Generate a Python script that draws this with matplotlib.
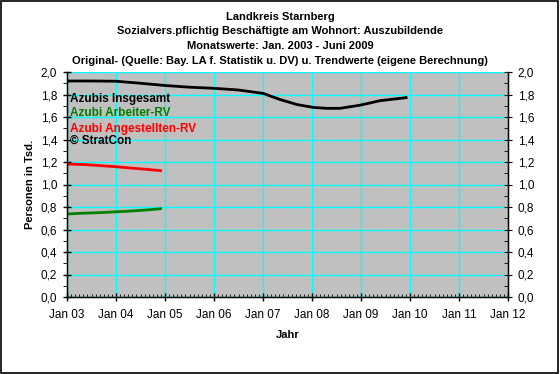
import matplotlib
matplotlib.use("Agg")
import matplotlib.pyplot as plt
from matplotlib.patches import Rectangle
from matplotlib.ticker import MultipleLocator, FixedLocator

plt.rcParams["font.family"] = ["Liberation Sans", "DejaVu Sans"]

# trend values (Tsd. persons), x in decimal years
insg_x = [2003.0, 2003.5, 2004.0, 2004.5, 2005.0, 2005.5, 2006.0, 2006.5, 2007.0,
          2007.35, 2007.7, 2008.03, 2008.3, 2008.57, 2008.98, 2009.39, 2009.92]
insg_y = [1.92, 1.92, 1.918, 1.90, 1.88, 1.865, 1.855, 1.84, 1.81,
          1.755, 1.71, 1.685, 1.677, 1.677, 1.705, 1.745, 1.772]

arb_x = [2003.0, 2003.33, 2003.67, 2004.0, 2004.33, 2004.67, 2004.91]
arb_y = [0.738, 0.745, 0.750, 0.757, 0.765, 0.775, 0.785]

ang_x = [2003.0, 2003.33, 2003.67, 2004.0, 2004.33, 2004.67, 2004.91]
ang_y = [1.182, 1.178, 1.168, 1.158, 1.145, 1.133, 1.123]

years = list(range(2003, 2013))
year_labels = ["Jan %02d" % (y % 100) for y in years]

title_lines = ["Landkreis Starnberg",
               "Sozialvers.pflichtig Beschäftigte am Wohnort: Auszubildende",
               "Monatswerte: Jan. 2003 - Juni 2009",
               "Original- (Quelle: Bay. LA f. Statistik u. DV) u. Trendwerte (eigene Berechnung)"]

fig = plt.figure(figsize=(5.6, 3.74), dpi=100)
fig.patches.append(Rectangle((0.002, 0.003), 0.995, 0.994, transform=fig.transFigure,
                             fill=False, edgecolor="black", linewidth=1.2))
ax = fig.add_axes([67 / 560, 77 / 374, 441 / 560, 225 / 374])
ax.set_facecolor("#c0c0c0")

ax.plot(insg_x, insg_y, color="black", linewidth=2)
ax.plot(arb_x, arb_y, color="#008000", linewidth=2)
ax.plot(ang_x, ang_y, color="#ff0000", linewidth=2)

ax.set_xlim(2003, 2012)
ax.set_ylim(0, 2.0)
ax.xaxis.set_major_locator(FixedLocator(years))
ax.set_xticklabels(year_labels)
ax.xaxis.set_minor_locator(MultipleLocator(1 / 12))
ax.yaxis.set_major_locator(MultipleLocator(0.2))
ax.yaxis.set_minor_locator(MultipleLocator(0.1))
ax.yaxis.set_major_formatter(lambda v, p: ("%.1f" % v).replace(".", ","))
ax.grid(True, which="major", color="#00ffff", linewidth=1)
ax.set_axisbelow(True)
for s in ax.spines.values():
    s.set_linewidth(1)
ax.spines["top"].set_visible(False)

ax.tick_params(axis="both", which="major", direction="inout", length=6, width=1,
               labelsize=8.5, pad=4)
ax.tick_params(axis="y", which="minor", direction="out", length=3)
ax.tick_params(axis="x", which="minor", direction="in", length=2)
ax.tick_params(axis="x", which="major", pad=6)

ax2 = ax.twinx()
ax2.set_ylim(0, 2.0)
ax2.yaxis.set_major_locator(MultipleLocator(0.2))
ax2.yaxis.set_minor_locator(MultipleLocator(0.1))
ax2.yaxis.set_major_formatter(lambda v, p: ("%.1f" % v).replace(".", ","))
ax2.tick_params(axis="y", which="major", direction="inout", length=6, labelsize=8.5, pad=4)
ax2.tick_params(axis="y", which="minor", direction="in", length=3)
ax2.spines["top"].set_visible(False)

ax.set_ylabel("Personen in Tsd.", fontsize=8, fontweight="bold", labelpad=4)
ax.set_xlabel("Jahr", fontsize=8, fontweight="bold", labelpad=6)

for i, line in enumerate(title_lines):
    fig.text(0.5, 1 - (16.5 + i * 14.8) / 374, line, ha="center", va="center",
             fontsize=8, fontweight="bold")

labels = [("Azubis Insgesamt", "black"), ("Azubi Arbeiter-RV", "#008000"),
          ("Azubi Angestellten-RV", "#ff0000"), ("© StratCon", "black")]
label_y = [1.76, 1.635, 1.495, 1.39]
for (txt, col), yy in zip(labels, label_y):
    ax.text(0.007, yy, txt, color=col, fontsize=8.5, fontweight="bold",
            va="center", ha="left", transform=ax.get_yaxis_transform())

fig.savefig("out.png", dpi=100)
